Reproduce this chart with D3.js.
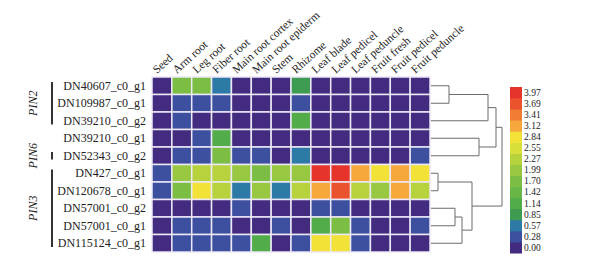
<!DOCTYPE html>
<html>
  <head>
    <script src="https://d3js.org/d3.v7.min.js" charset="utf-8"></script>
    <style>
      body { margin: 0; background: #fff; }
      text { font-family: "Liberation Serif", "Times New Roman", serif; fill: #222; }
    </style>
  </head>
  <body>
    <svg id="chart" width="589" height="262"></svg>
    <script>
      var tissues = ["Seed", "Arm root", "Leg root", "Fiber root", "Main root cortex", "Main root epiderm",
        "Stem", "Rhizome", "Leaf blade", "Leaf pedicel", "Leaf peduncle", "Fruit fresh", "Fruit pedicel", "Fruit peduncle"];

      var genes = ["DN40607_c0_g1", "DN109987_c0_g1", "DN39210_c0_g2", "DN39210_c0_g1", "DN52343_c0_g2",
        "DN427_c0_g1", "DN120678_c0_g1", "DN57001_c0_g2", "DN57001_c0_g1", "DN115124_c0_g1"];

      // expression, one row per gene, columns in tissue order
      var values = [
        [0.1, 1.9, 1.9, 0.6, 0.1, 0.1, 0.1, 1.0, 0.1, 0.1, 0.1, 0.1, 0.1, 0.1],
        [0.1, 0.4, 0.4, 0.4, 0.1, 0.1, 0.1, 0.4, 0.1, 0.1, 0.1, 0.1, 0.1, 0.1],
        [0.1, 0.4, 0.1, 0.1, 0.1, 0.1, 0.1, 1.2, 0.1, 0.1, 0.1, 0.1, 0.1, 0.1],
        [0.1, 0.1, 0.4, 1.2, 0.1, 0.1, 0.1, 0.1, 0.1, 0.1, 0.1, 0.1, 0.1, 0.1],
        [0.1, 0.4, 0.4, 1.9, 0.4, 0.4, 0.1, 0.7, 0.1, 0.1, 0.1, 0.1, 0.1, 0.4],
        [0.4, 2.0, 2.3, 2.4, 2.0, 1.8, 2.0, 2.0, 4.0, 4.0, 3.2, 2.9, 3.2, 2.9],
        [0.4, 1.9, 2.9, 2.3, 0.7, 2.0, 0.7, 2.3, 3.2, 3.8, 2.3, 2.0, 3.2, 2.3],
        [0.1, 0.1, 0.1, 0.1, 0.4, 0.1, 0.1, 0.1, 0.4, 0.4, 0.1, 0.1, 0.1, 0.1],
        [0.1, 0.4, 0.4, 0.4, 0.1, 0.1, 0.4, 0.1, 1.2, 1.8, 0.4, 0.1, 0.1, 0.4],
        [0.1, 0.4, 0.4, 0.4, 0.4, 1.2, 0.1, 0.4, 2.9, 2.9, 0.4, 0.1, 0.1, 0.1]
      ];

      var legendTicks = [0.00, 0.28, 0.57, 0.85, 1.14, 1.42, 1.70, 1.99, 2.27, 2.55, 2.84, 3.12, 3.41, 3.69, 3.97];

      var groups = [
        {name: "PIN2", from: 0, to: 2},
        {name: "PIN6", from: 4, to: 4},
        {name: "PIN3", from: 5, to: 9}
      ];

      // row clustering: leaves are row indices, h is merge distance
      var tree = {h: 71, children: [
        {h: 65, children: [
          {h: 57, children: [{h: 18, children: [0, 1]}, 2]},
          {h: 48, children: [3, 4]}
        ]},
        {h: 41, children: [
          {h: 7, children: [5, 6]},
          {h: 31, children: [{h: 24, children: [7, 8]}, 9]}
        ]}
      ]};

      var palette = ["#432c80", "#3d50a0", "#2d7aa6", "#3e9b52", "#52ac4a", "#68b646", "#7cbe44", "#98c842",
        "#b6d33e", "#d7df38", "#f2e136", "#f6a83a", "#ef7c30", "#ea532d", "#e6342b"];

      var svg = d3.select("#chart");

      var x = d3.scaleBand().domain(d3.range(tissues.length)).range([152, 430]);
      var y = d3.scaleBand().domain(d3.range(genes.length)).range([77, 252]);
      var color = d3.scaleThreshold().domain(legendTicks.slice(1)).range(palette);

      // heatmap cells
      var cells = [];
      values.forEach((row, r) => row.forEach((v, c) => cells.push({r: r, c: c, v: v})));

      svg.append("g").selectAll("rect").data(cells).enter().append("rect")
        .attr("x", d => x(d.c))
        .attr("y", d => y(d.r))
        .attr("width", x.bandwidth())
        .attr("height", y.bandwidth())
        .attr("fill", d => color(d.v))
        .attr("stroke", "#ece8f6")
        .attr("stroke-width", 1.5);

      // column labels
      svg.append("g").selectAll("text").data(tissues).enter().append("text")
        .attr("transform", (d, i) => `translate(${x(i) + 5}, 74) rotate(-42)`)
        .attr("font-size", 11.5)
        .text(d => d);

      // row labels
      svg.append("g").selectAll("text").data(genes).enter().append("text")
        .attr("x", 146)
        .attr("y", (d, i) => y(i) + y.bandwidth() / 2)
        .attr("dy", "0.35em")
        .attr("text-anchor", "end")
        .attr("font-size", 12)
        .text(d => d);

      // gene family brackets
      var grp = svg.append("g").selectAll("g").data(groups).enter().append("g");
      grp.append("line")
        .attr("x1", 52).attr("x2", 52)
        .attr("y1", d => y(d.from) + 5)
        .attr("y2", d => y(d.to) + y.bandwidth() - 5)
        .attr("stroke", "#333").attr("stroke-width", 2);
      grp.append("text")
        .attr("transform", d => `translate(37, ${(y(d.from) + y(d.to) + y.bandwidth()) / 2}) rotate(-90)`)
        .attr("text-anchor", "middle")
        .attr("font-size", 12)
        .attr("font-style", "italic")
        .text(d => d.name);

      // dendrogram
      var root = d3.hierarchy(tree, d => d.children ? d.children.map(c => typeof c === "number" ? {leaf: c} : c) : null);
      var hx = d3.scaleLinear().domain([0, 71]).range([431, 502]);
      root.eachAfter(n => {
        if (n.children) {
          n.py = (n.children[0].py + n.children[1].py) / 2;
          n.px = hx(n.data.h);
        } else {
          n.py = y(n.data.leaf) + y.bandwidth() / 2;
          n.px = hx(0);
        }
      });
      var dg = svg.append("g").attr("fill", "none").attr("stroke", "#6b6b6b").attr("stroke-width", 1);
      root.each(n => {
        if (!n.children) return;
        dg.append("path").attr("d", `M${n.px},${n.children[0].py}V${n.children[1].py}`);
        n.children.forEach(c => {
          dg.append("path").attr("d", `M${c.px},${c.py}H${n.px}`);
        });
      });

      // colour legend
      var ly = d3.scaleBand().domain(d3.range(legendTicks.length).reverse()).range([87, 253]);
      var lg = svg.append("g");
      lg.selectAll("rect").data(legendTicks).enter().append("rect")
        .attr("x", 510)
        .attr("y", (d, i) => ly(i))
        .attr("width", 12)
        .attr("height", ly.bandwidth() + 0.5)
        .attr("fill", (d, i) => palette[i]);
      lg.selectAll("text").data(legendTicks).enter().append("text")
        .attr("x", 524)
        .attr("y", (d, i) => ly(i) + ly.bandwidth() / 2)
        .attr("dy", "0.35em")
        .attr("font-size", 9.5)
        .attr("fill", "#333")
        .text(d => d.toFixed(2));
    </script>
  </body>
</html>
